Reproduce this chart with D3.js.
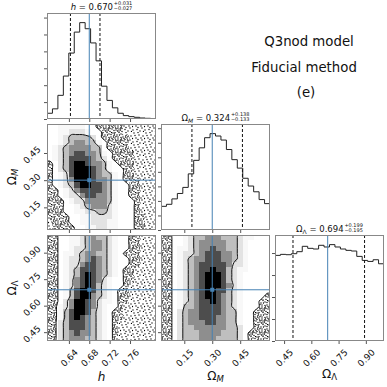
<!DOCTYPE html>
<html>
<head>
<meta charset="utf-8">
<script src="https://cdnjs.cloudflare.com/ajax/libs/d3/7.8.5/d3.min.js"></script>
<style>
  body { margin: 0; background: #fff; }
  text { font-family: "DejaVu Sans", sans-serif; }
</style>
</head>
<body>
<div id="chart"></div>
<script>
// axis extents
var hRange = [0.597, 0.811];
var omRange = [0.025, 0.61];
var olRange = [0.40, 1.00];

var hTicks = [0.64, 0.68, 0.72, 0.76];
var omTicks = [0.15, 0.30, 0.45];
var olTicks = [0.45, 0.60, 0.75, 0.90];

// truth values (blue lines)
var truths = [0.68, 0.30, 0.69];

// median, +err, -err
var hStats = [0.670, 0.031, 0.027];
var omStats = [0.324, 0.138, 0.133];
var olStats = [0.694, 0.199, 0.195];

// 1D marginals, 20 bins each
var hCounts = [17, 30, 70, 127, 195, 257, 285, 267, 225, 172, 97, 55, 33, 17, 10, 7, 5, 3, 2, 1];
var omCounts = [70, 76, 92, 108, 126, 166, 206, 243, 273, 285, 278, 266, 238, 208, 183, 153, 130, 113, 90, 78];
var olCounts = [255, 258, 257, 260, 266, 282, 276, 274, 285, 280, 287, 280, 274, 270, 268, 252, 240, 237, 242, 230];
var countSteps = [50, 43, 65.5];

// 2D densities, 20x20, top row = highest y value (0..9)
var gridHOm = [
  "33444443322222111111",
  "33445554332222111111",
  "33456666532222211111",
  "33456776643222211111",
  "34567777663222211111",
  "34567887764322221111",
  "34568888765322221111",
  "23568998776432221111",
  "23568999876433221111",
  "23458999876643221111",
  "23457999877643222111",
  "23456899887643322111",
  "22345788887643322111",
  "22345578877643322111",
  "22234557777643332111",
  "22233456777543332111",
  "22233445566543332111",
  "22223344555543332211",
  "12223344555443332211",
  "12222334455443332211"
];
var gridHOl = [
  "22334456766543322111",
  "22334456776543322111",
  "22334556776543322111",
  "22344567766543222111",
  "22345567876543322111",
  "22345578876543322111",
  "22345688876543221111",
  "22345689876543221111",
  "22345789875433221111",
  "22345789865433211111",
  "22346899865432211111",
  "22346899765432211111",
  "22357998754432211111",
  "22457998754332111111",
  "22468998654322111111",
  "22468987654322111111",
  "22568887654321111111",
  "22568887654321111111",
  "22567877654321111111",
  "22567776654321111111"
];
var gridOmOl = [
  "22334566777666544333",
  "22334567777766543333",
  "22344567787766543333",
  "22345567888776543333",
  "22345677888776543333",
  "22345678888875543333",
  "22345678898865443333",
  "22345678999865433333",
  "22345678999865433333",
  "22345678999875433333",
  "22345678998865433333",
  "22345678998765433332",
  "22345678898765433322",
  "22346678888765433322",
  "22356778888766433222",
  "22356778887766433222",
  "22356777887766433222",
  "22356677777766533222",
  "22356667777666532222",
  "22356667776666532222"
];

var W = 387, H = 387;
var x0s = [47, 161, 275], y0s = [13, 124, 235], pw = 109, ph = 106;
var ranges = [hRange, omRange, olRange];
var tickSets = [hTicks, omTicks, olTicks];
var counts = [hCounts, omCounts, olCounts];
var stats = [hStats, omStats, olStats];
var grids = { '1,0': gridHOm, '2,0': gridHOl, '2,1': gridOmOl };
var truthColor = '#4682b4';
var fmt2 = d3.format('.2f'), fmt3 = d3.format('.3f');

var xScales = x0s.map(function (x, i) { return d3.scaleLinear().domain(ranges[i]).range([x, x + pw]); });
var yScales = y0s.map(function (y, i) { return d3.scaleLinear().domain(ranges[i]).range([y + ph, y]); });
// grey level of the density image: nothing at the outer level, black at the peak
var shade = d3.scaleLinear().domain([3, 9]).range([0, 1]).clamp(true);

var svg = d3.select('#chart').append('svg').attr('width', W).attr('height', H);
var defs = svg.append('defs');

// stipple used for the samples outside the outer contour
var denseDots = [[1,2],[5,1],[9,3],[11,0.5],[3,5],[7,6],[10,7],[0.5,8],[4,9],[8,10],[11,11],[2,11.5],
  [6,3.5],[1,5.5],[9,8.5],[5,7.5],[3,2.5],[7,0.5],[10,5],[6,10.5],[0.5,10],[4,6.5],[8,4.5],[2,8.5],
  [3.5,0.5],[11.5,3],[7.5,8],[5.5,5],[9.5,11],[1.5,7],[11,9],[6.5,2]];
var sparseDots = [[2,1],[7,3],[10,8],[4,6],[1,10],[8,11],[11,4],[5,9.5],[3,3.5],[9,6],[6,0.5],[0.5,6.5],
  [11.5,11.5],[6,7.5]];
function addPattern(id, pts) {
  var p = defs.append('pattern').attr('id', id).attr('patternUnits', 'userSpaceOnUse')
    .attr('width', 12).attr('height', 12);
  p.selectAll('circle').data(pts).enter().append('circle')
    .attr('cx', function (d) { return d[0]; }).attr('cy', function (d) { return d[1]; })
    .attr('r', 0.65).attr('fill', '#000');
}
addPattern('dense', denseDots);
addPattern('sparse', sparseDots);

function clipFor(r, c) {
  var id = 'clip' + r + c;
  defs.append('clipPath').attr('id', id).append('rect')
    .attr('x', x0s[c]).attr('y', y0s[r]).attr('width', pw).attr('height', ph);
  return 'url(#' + id + ')';
}

function styleAxis(g) {
  g.select('.domain').remove();
  g.selectAll('.tick line').attr('stroke', '#555');
  g.selectAll('.tick text').attr('font-size', 9).attr('fill', '#111')
    .attr('font-family', '"DejaVu Sans", sans-serif');
}

function bottomAxis(r, c, labelled) {
  var g = svg.append('g').attr('transform', 'translate(0,' + (y0s[r] + ph) + ')')
    .call(d3.axisBottom(xScales[c]).tickValues(tickSets[c]).tickSize(3)
      .tickFormat(labelled ? fmt2 : ''));
  styleAxis(g);
  g.selectAll('.tick text').attr('x', 0).attr('y', 0).attr('dy', null)
    .attr('text-anchor', 'middle').attr('dominant-baseline', 'central')
    .attr('transform', 'translate(0,17) rotate(-45)');
}

function leftAxis(scale, x, values, labelled) {
  var g = svg.append('g').attr('transform', 'translate(' + x + ',0)')
    .call(d3.axisLeft(scale).tickValues(values).tickSize(3).tickFormat(labelled ? fmt2 : ''));
  styleAxis(g);
  g.selectAll('.tick text').attr('x', 0).attr('y', 0).attr('dy', null)
    .attr('text-anchor', 'middle').attr('dominant-baseline', 'central')
    .attr('transform', 'translate(-15,1.5) rotate(-45)');
}

function frame(r, c) {
  svg.append('rect').attr('x', x0s[c] + 0.5).attr('y', y0s[r] + 0.5)
    .attr('width', pw - 1).attr('height', ph - 1)
    .attr('fill', 'none').attr('stroke', '#888').attr('stroke-width', 1);
}

function drawHist(i) {
  var xs = xScales[i], c = counts[i];
  var ymax = d3.max(c) * 1.1;
  var ys = d3.scaleLinear().domain([0, ymax]).range([y0s[i] + ph, y0s[i]]);
  var lo = ranges[i][0], step = (ranges[i][1] - lo) / c.length;
  var pts = [[lo, 0]];
  c.forEach(function (v, k) { pts.push([lo + k * step, v]); pts.push([lo + (k + 1) * step, v]); });
  pts.push([ranges[i][1], 0]);

  var g = svg.append('g').attr('clip-path', clipFor(i, i));
  g.append('path')
    .attr('d', d3.line().x(function (d) { return xs(d[0]); }).y(function (d) { return ys(d[1]); })(pts))
    .attr('fill', 'none').attr('stroke', '#222').attr('stroke-width', 1);

  var s = stats[i];
  g.selectAll('line.q').data([s[0] - s[2], s[0] + s[1]]).enter().append('line')
    .attr('x1', function (d) { return xs(d); }).attr('x2', function (d) { return xs(d); })
    .attr('y1', y0s[i]).attr('y2', y0s[i] + ph)
    .attr('stroke', '#111').attr('stroke-width', 1).attr('stroke-dasharray', '3,2');
  g.append('line').attr('x1', xs(truths[i])).attr('x2', xs(truths[i]))
    .attr('y1', y0s[i]).attr('y2', y0s[i] + ph)
    .attr('stroke', truthColor).attr('stroke-width', 1);

  frame(i, i);
  bottomAxis(i, i, i === 2);
  leftAxis(ys, x0s[i], d3.range(0, ymax, countSteps[i]), false);
}

var ringLine = d3.line().curve(d3.curveCatmullRomClosed.alpha(0.5));

function draw2d(r, c) {
  var rows = grids[r + ',' + c];
  var n = rows.length, m = rows[0].length;
  var vals = rows.map(function (row) { return row.split('').map(Number); });
  var xs = xScales[c], ys = yScales[r];
  var xr = ranges[c], yr = ranges[r];
  var cw = (xr[1] - xr[0]) / m, chh = (yr[1] - yr[0]) / n;

  // pad one cell on each side so the contour rings close outside the frame
  var padded = [];
  for (var py = 0; py < n + 2; py++) {
    for (var px = 0; px < m + 2; px++) {
      var yy = Math.min(n - 1, Math.max(0, py - 1));
      var xx = Math.min(m - 1, Math.max(0, px - 1));
      padded.push(vals[yy][xx]);
    }
  }
  var cont = d3.contours().size([m + 2, n + 2]).thresholds([2.5, 5.5])(padded);

  function toPath(mp) {
    return mp.coordinates.map(function (poly) {
      return poly.map(function (ring) {
        var p = ring.slice(0, -1).map(function (pt) {
          return [xs(xr[0] + (pt[0] - 1) * cw), ys(yr[1] - (pt[1] - 1) * chh)];
        });
        return ringLine(p);
      }).join('');
    }).join('');
  }

  var cells = [];
  vals.forEach(function (row, j) { row.forEach(function (v, k) { cells.push({ j: j, k: k, v: v }); }); });
  function cx(d) { return xs(xr[0] + d.k * cw); }
  function cy(d) { return ys(yr[1] - d.j * chh); }
  function cwid(d) { return xs(xr[0] + (d.k + 1) * cw) - xs(xr[0] + d.k * cw); }
  function chgt(d) { return ys(yr[1] - (d.j + 1) * chh) - ys(yr[1] - d.j * chh); }

  var g = svg.append('g').attr('clip-path', clipFor(r, c));
  // samples outside the outer contour
  g.selectAll('rect.dots').data(cells.filter(function (d) { return d.v > 0 && d.v < 3; })).enter()
    .append('rect').attr('class', 'dots')
    .attr('x', cx).attr('y', cy).attr('width', cwid).attr('height', chgt)
    .attr('fill', function (d) { return d.v === 1 ? 'url(#sparse)' : 'url(#dense)'; })
    .attr('shape-rendering', 'crispEdges');
  // white above the outer level
  g.append('path').attr('d', toPath(cont[0])).attr('fill', '#fff').attr('fill-rule', 'evenodd');

  // density image
  g.selectAll('rect.cell').data(cells).enter().append('rect').attr('class', 'cell')
    .attr('x', cx).attr('y', cy).attr('width', cwid).attr('height', chgt)
    .attr('fill', function (d) { var a = shade(d.v); return d3.rgb(255 * (1 - a), 255 * (1 - a), 255 * (1 - a)); })
    .attr('fill-opacity', function (d) { return shade(d.v); })
    .attr('shape-rendering', 'crispEdges');

  cont.forEach(function (mp) {
    g.append('path').attr('d', toPath(mp)).attr('fill', 'none')
      .attr('stroke', '#111').attr('stroke-width', 1);
  });

  g.append('line').attr('x1', xs(truths[c])).attr('x2', xs(truths[c]))
    .attr('y1', y0s[r]).attr('y2', y0s[r] + ph).attr('stroke', truthColor).attr('stroke-width', 1);
  g.append('line').attr('y1', ys(truths[r])).attr('y2', ys(truths[r]))
    .attr('x1', x0s[c]).attr('x2', x0s[c] + pw).attr('stroke', truthColor).attr('stroke-width', 1);
  g.append('rect').attr('x', xs(truths[c]) - 2).attr('y', ys(truths[r]) - 2)
    .attr('width', 4).attr('height', 4).attr('fill', truthColor);

  frame(r, c);
  bottomAxis(r, c, r === 2);
  leftAxis(ys, x0s[c], tickSets[r], c === 0);
}

for (var r = 0; r < 3; r++) {
  for (var c = 0; c <= r; c++) {
    if (r === c) drawHist(r); else draw2d(r, c);
  }
}

// titles above the marginals
function addTitle(i, base, parts) {
  var s = stats[i];
  var cx = x0s[i] + pw / 2;
  var g = svg.append('g').attr('fill', '#111');
  var t = g.append('text').attr('y', base).attr('font-size', 8.5);
  parts.concat([{ t: ' = ' + fmt3(s[0]), dy: parts.length > 1 ? -1.5 : null }]).forEach(function (p) {
    t.append('tspan').text(p.t).attr('font-style', p.i ? 'italic' : null)
      .attr('font-size', p.s || null).attr('dy', p.dy || null);
  });
  var w = t.node().getComputedTextLength();
  var tu = g.append('text').attr('y', base - 5.3).attr('font-size', 5).text('+' + fmt3(s[1]));
  var td = g.append('text').attr('y', base - 0.3).attr('font-size', 5).text('\u2212' + fmt3(s[2]));
  var ws = Math.max(tu.node().getComputedTextLength(), td.node().getComputedTextLength());
  var x = cx - (w + 0.8 + ws) / 2;
  t.attr('x', x);
  tu.attr('x', x + w + 0.8);
  td.attr('x', x + w + 0.8);
}
addTitle(0, 10, [{ t: 'h', i: true }]);
addTitle(1, 121, [{ t: '\u03A9' }, { t: 'M', i: true, s: 6, dy: 1.5 }]);
addTitle(2, 232, [{ t: '\u03A9' }, { t: '\u039B', s: 6, dy: 1.5 }]);

// axis labels
function axisLabel(x, y, rot, parts) {
  var t = svg.append('text').attr('font-size', 12).attr('fill', '#111')
    .attr('text-anchor', 'middle')
    .attr('transform', 'translate(' + x + ',' + y + ')' + (rot ? ' rotate(' + rot + ')' : ''));
  parts.forEach(function (p) {
    t.append('tspan').text(p.t).attr('font-style', p.i ? 'italic' : null)
      .attr('font-size', p.s || null).attr('dy', p.dy || null);
  });
}
axisLabel(x0s[0] + pw / 2, 381, 0, [{ t: 'h', i: true }]);
axisLabel(x0s[1] + pw / 2, 380, 0, [{ t: '\u03A9' }, { t: 'M', i: true, s: 8.5, dy: 2 }]);
axisLabel(x0s[2] + pw / 2, 378, 0, [{ t: '\u03A9' }, { t: '\u039B', s: 8.5, dy: 2 }]);
axisLabel(16, y0s[1] + ph / 2, -90, [{ t: '\u03A9' }, { t: 'M', i: true, s: 8.5, dy: 2 }]);
axisLabel(16, y0s[2] + ph / 2, -90, [{ t: '\u03A9' }, { t: '\u039B', s: 8.5, dy: 2 }]);

// annotation block
var notes = [['Q3nod model', 309, 46], ['Fiducial method', 304, 72], ['(e)', 306, 97]];
svg.selectAll('text.note').data(notes).enter().append('text')
  .attr('x', function (d) { return d[1]; }).attr('y', function (d) { return d[2]; })
  .attr('text-anchor', 'middle').attr('font-size', 13.3).attr('fill', '#111')
  .text(function (d) { return d[0]; });
</script>
</body>
</html>
